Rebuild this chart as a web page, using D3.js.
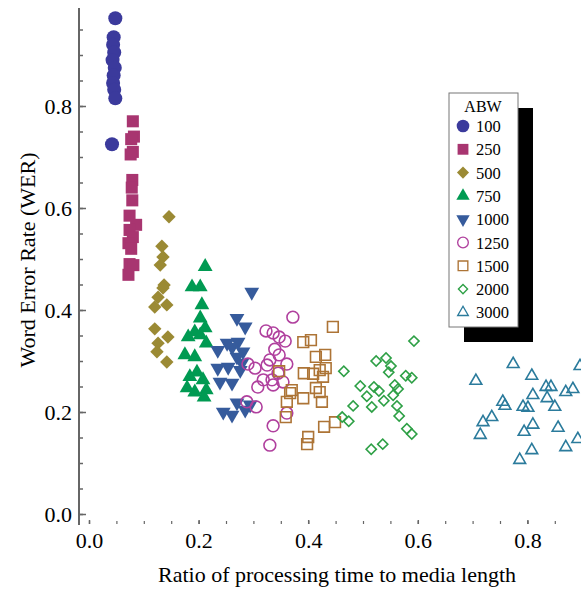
<!DOCTYPE html>
<html>
<head>
<meta charset="utf-8">
<script src="https://cdn.jsdelivr.net/npm/d3@7"></script>
<style>
  body { margin: 0; background: #fff; }
  svg text { font-family: "Liberation Serif", "Times New Roman", Times, serif; fill: #000; }
</style>
</head>
<body>
<div id="chart"></div>
<script>
// ABW series, [ratio, WER]
let abw100 = [[0.048,0.972],[0.045,0.935],[0.044,0.92],[0.046,0.905],[0.043,0.89],[0.047,0.875],[0.045,0.86],[0.044,0.845],[0.046,0.832],[0.048,0.815],[0.042,0.725]];
let abw250 = [[0.08,0.77],[0.082,0.74],[0.077,0.735],[0.08,0.71],[0.076,0.705],[0.079,0.655],[0.078,0.64],[0.079,0.615],[0.074,0.585],[0.086,0.567],[0.074,0.557],[0.08,0.543],[0.072,0.531],[0.077,0.52],[0.074,0.49],[0.081,0.488],[0.072,0.469]];
let abw500 = [[0.146,0.583],[0.133,0.525],[0.135,0.504],[0.13,0.488],[0.137,0.449],[0.135,0.443],[0.126,0.425],[0.12,0.406],[0.142,0.41],[0.12,0.363],[0.144,0.347],[0.126,0.335],[0.124,0.318],[0.142,0.298]];
let abw750 = [[0.212,0.485],[0.188,0.445],[0.203,0.445],[0.206,0.41],[0.203,0.384],[0.212,0.365],[0.193,0.357],[0.181,0.347],[0.203,0.351],[0.214,0.335],[0.175,0.312],[0.193,0.308],[0.197,0.278],[0.184,0.269],[0.208,0.263],[0.179,0.247],[0.193,0.239],[0.214,0.243],[0.21,0.229]];
let abw1000 = [[0.297,0.435],[0.27,0.384],[0.285,0.367],[0.252,0.335],[0.272,0.337],[0.261,0.327],[0.235,0.321],[0.281,0.318],[0.27,0.308],[0.279,0.296],[0.235,0.286],[0.254,0.288],[0.276,0.282],[0.239,0.259],[0.261,0.257],[0.27,0.218],[0.245,0.2],[0.261,0.194],[0.285,0.204],[0.294,0.214]];
let abw1250 = [[0.372,0.386],[0.323,0.359],[0.336,0.355],[0.347,0.347],[0.358,0.339],[0.339,0.323],[0.347,0.312],[0.33,0.302],[0.361,0.294],[0.29,0.294],[0.303,0.286],[0.325,0.292],[0.345,0.276],[0.318,0.263],[0.334,0.263],[0.354,0.259],[0.308,0.249],[0.336,0.253],[0.288,0.22],[0.305,0.21],[0.361,0.198],[0.336,0.173],[0.33,0.135]];
let abw1500 = [[0.445,0.367],[0.391,0.337],[0.405,0.341],[0.414,0.308],[0.431,0.312],[0.432,0.286],[0.421,0.282],[0.392,0.276],[0.409,0.275],[0.427,0.269],[0.347,0.28],[0.414,0.247],[0.421,0.239],[0.37,0.243],[0.367,0.237],[0.391,0.227],[0.361,0.22],[0.425,0.22],[0.359,0.19],[0.449,0.18],[0.429,0.171],[0.4,0.151],[0.398,0.137]];
let abw2000 = [[0.593,0.339],[0.524,0.3],[0.542,0.306],[0.551,0.29],[0.547,0.278],[0.465,0.28],[0.578,0.271],[0.589,0.267],[0.495,0.251],[0.52,0.249],[0.529,0.241],[0.558,0.253],[0.564,0.245],[0.507,0.231],[0.555,0.233],[0.538,0.222],[0.482,0.212],[0.516,0.21],[0.562,0.212],[0.566,0.192],[0.462,0.19],[0.474,0.182],[0.58,0.167],[0.589,0.157],[0.536,0.137],[0.515,0.127]];
let abw3000 = [[0.774,0.294],[0.706,0.261],[0.808,0.271],[0.896,0.29],[0.834,0.249],[0.843,0.249],[0.883,0.245],[0.87,0.239],[0.81,0.233],[0.836,0.227],[0.755,0.22],[0.759,0.212],[0.792,0.21],[0.801,0.208],[0.85,0.21],[0.735,0.19],[0.719,0.18],[0.81,0.175],[0.856,0.169],[0.794,0.161],[0.714,0.155],[0.892,0.147],[0.87,0.131],[0.808,0.125],[0.786,0.106]];

let seriesNames = ["100", "250", "500", "750", "1000", "1250", "1500", "2000", "3000"];
let seriesData = [abw100, abw250, abw500, abw750, abw1000, abw1250, abw1500, abw2000, abw3000];

let xTickLabels = [0.0, 0.2, 0.4, 0.6, 0.8];
let yTickLabels = [0.0, 0.2, 0.4, 0.6, 0.8];

// marker styles per series
const styles = [
    { type: d3.symbolCircle,   size: 155, rot: 0,   fill: "#3b3a9c", stroke: "none" },
    { type: d3.symbolSquare,   size: 145, rot: 0,   fill: "#a83570", stroke: "none" },
    { type: d3.symbolSquare,   size: 90,  rot: 45,  fill: "#9b8a34", stroke: "none" },
    { type: d3.symbolTriangle, size: 95,  rot: 0,   fill: "#009a52", stroke: "none" },
    { type: d3.symbolTriangle, size: 95,  rot: 180, fill: "#365b9c", stroke: "none" },
    { type: d3.symbolCircle,   size: 110, rot: 0,   fill: "none", stroke: "#b0409e" },
    { type: d3.symbolSquare,   size: 115, rot: 0,   fill: "none", stroke: "#ad7436" },
    { type: d3.symbolSquare,   size: 52,  rot: 45,  fill: "none", stroke: "#2ea046" },
    { type: d3.symbolTriangle, size: 60,  rot: 0,   fill: "none", stroke: "#2b7b9c" }
];

let width = 581;
let height = 590;

let svg = d3.select("#chart")
    .append("svg")
    .attr("width", width)
    .attr("height", height);

let scaleX = d3.scaleLinear().domain([0, 1]).range([89, 637]);
let scaleY = d3.scaleLinear().domain([0, 1]).range([514, 4]);

const axisColor = "#666";

// y axis line
svg.append("line")
    .attr("x1", 79).attr("x2", 79)
    .attr("y1", 8).attr("y2", 525)
    .attr("stroke", axisColor)
    .attr("stroke-width", 2);

// y minor ticks
let yMinor = svg.append("g")
    .attr("transform", "translate(79,0)")
    .call(d3.axisLeft(scaleY).tickValues(d3.range(0, 0.96, 0.05)).tickSize(-4).tickFormat(""));
yMinor.select(".domain").remove();
yMinor.selectAll("line").attr("stroke", axisColor).attr("stroke-width", 1.5);

// y major ticks + labels
let yMajor = svg.append("g")
    .attr("transform", "translate(79,0)")
    .call(d3.axisLeft(scaleY).tickValues(yTickLabels).tickSize(-7).tickPadding(7).tickFormat(d3.format(".1f")))
    .attr("font-family", null)
    .attr("font-size", 22);
yMajor.select(".domain").remove();
yMajor.selectAll("line").attr("stroke", axisColor).attr("stroke-width", 1.5);
yMajor.selectAll("text").attr("fill", "#000");

// x ticks (no axis line)
let xMinor = svg.append("g")
    .attr("transform", "translate(0,524)")
    .call(d3.axisBottom(scaleX).tickValues(d3.range(0, 0.91, 0.05)).tickSize(-3).tickFormat(""));
xMinor.select(".domain").remove();
xMinor.selectAll("line").attr("stroke", axisColor).attr("stroke-width", 1.2);

let xMajor = svg.append("g")
    .attr("transform", "translate(0,524)")
    .call(d3.axisBottom(scaleX).tickValues(xTickLabels).tickSize(-4).tickPadding(8).tickFormat(d3.format(".1f")))
    .attr("font-family", null)
    .attr("font-size", 22);
xMajor.select(".domain").remove();
xMajor.selectAll("line").attr("stroke", axisColor).attr("stroke-width", 1.5);
xMajor.selectAll("text").attr("fill", "#000");

// axis titles
svg.append("text")
    .attr("x", 337)
    .attr("y", 582)
    .attr("text-anchor", "middle")
    .attr("font-size", 22)
    .text("Ratio of processing time to media length");

svg.append("text")
    .attr("transform", "translate(35,260) rotate(-90)")
    .attr("text-anchor", "middle")
    .attr("font-size", 22)
    .text("Word Error Rate (WER)");

const markerPath = (s) => d3.symbol().type(s.type).size(s.size)();

// points
seriesData.forEach((pts, i) => {
    let s = styles[i];
    svg.append("g")
        .attr("class", "series-" + seriesNames[i])
        .selectAll("path")
        .data(pts)
        .join("path")
        .attr("d", markerPath(s))
        .attr("transform", d => "translate(" + scaleX(d[0]) + "," + scaleY(d[1]) + ") rotate(" + s.rot + ")")
        .attr("fill", s.fill)
        .attr("stroke", s.stroke)
        .attr("stroke-width", s.stroke === "none" ? 0 : 1.6);
});

// legend with drop shadow
let legend = svg.append("g").attr("transform", "translate(449,93)");
legend.append("rect")
    .attr("x", 15).attr("y", 15)
    .attr("width", 69).attr("height", 234)
    .attr("fill", "#000");
legend.append("rect")
    .attr("x", 0).attr("y", 0)
    .attr("width", 69).attr("height", 234)
    .attr("fill", "#fff")
    .attr("stroke", "#777")
    .attr("stroke-width", 1);
legend.append("text")
    .attr("x", 34)
    .attr("y", 19)
    .attr("text-anchor", "middle")
    .attr("font-size", 16)
    .text("ABW");

let entries = legend.selectAll("g.entry")
    .data(seriesNames)
    .join("g")
    .attr("class", "entry")
    .attr("transform", (d, i) => "translate(0," + (33 + i * 23.3) + ")");
entries.append("path")
    .attr("d", (d, i) => markerPath(styles[i]))
    .attr("transform", (d, i) => "translate(14,0) rotate(" + styles[i].rot + ") scale(0.9)")
    .attr("fill", (d, i) => styles[i].fill)
    .attr("stroke", (d, i) => styles[i].stroke)
    .attr("stroke-width", (d, i) => styles[i].stroke === "none" ? 0 : 1.5);
entries.append("text")
    .attr("x", 27)
    .attr("y", 6)
    .attr("font-size", 16.5)
    .text(d => d);
</script>
</body>
</html>
